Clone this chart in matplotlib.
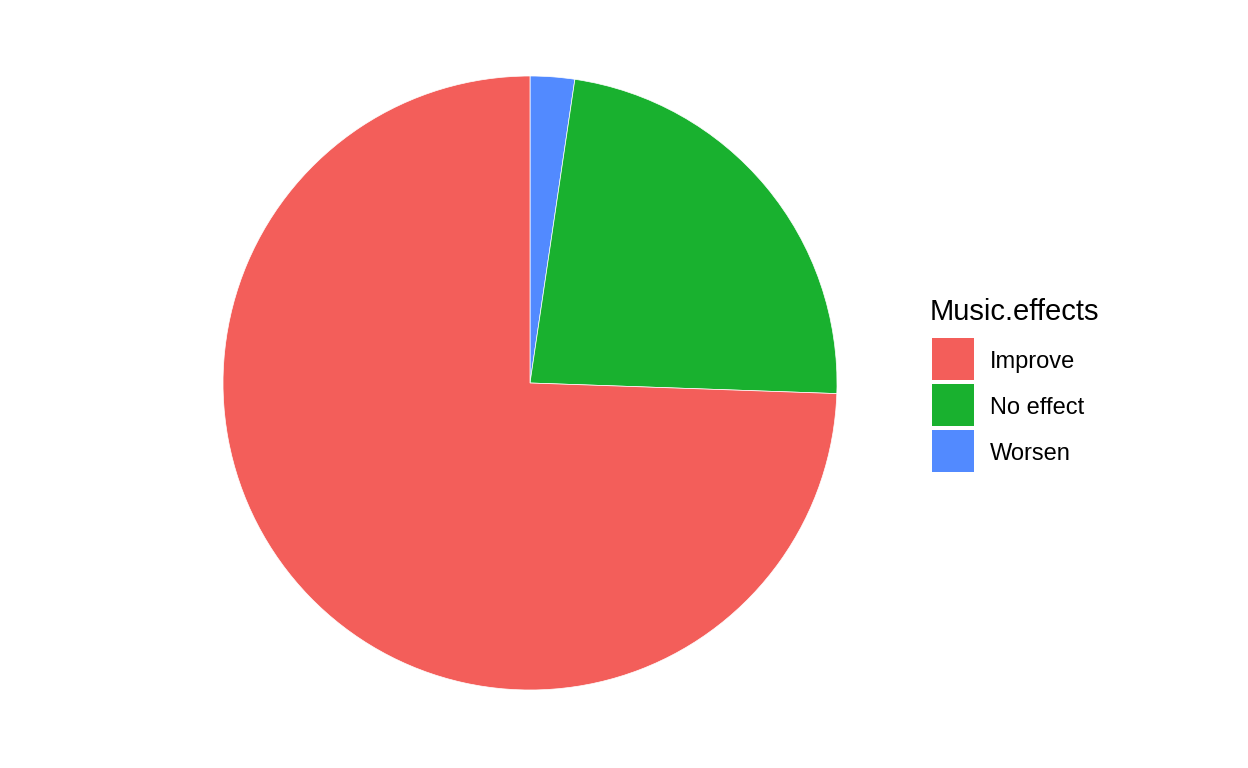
import matplotlib.pyplot as plt
from matplotlib.patches import Rectangle

plt.rcParams['font.family'] = ['Liberation Sans', 'DejaVu Sans']

# Datos
categories = ["Improve", "No effect", "Worsen"]
counts = [542, 169, 17]
colors = ["#F35E5A", "#19B12F", "#528AFF"]
legend_title = "Music.effects"

W, H = 1248, 768
fig = plt.figure(figsize=(W / 100, H / 100), dpi=100)

cx, cy, r = 530, 383, 307
ax = fig.add_axes([(cx - r) / W, (H - cy - r) / H, 2 * r / W, 2 * r / H])

# ggplot coord_polar: Worsen arranca arriba, sentido horario
order = [2, 1, 0]
ax.pie([counts[i] for i in order], colors=[colors[i] for i in order],
       startangle=90, counterclock=False, radius=1,
       wedgeprops=dict(linewidth=0.5, edgecolor="white"))
ax.set_xlim(-1, 1)
ax.set_ylim(-1, 1)
ax.set_aspect("equal")
ax.axis("off")

# Leyenda estilo ggplot (en pixeles)
def px(x, y):
    return x / W, 1 - y / H

fig.text(*px(930, 320), legend_title, fontsize=21, ha="left", va="baseline")
key = 42
for i, (lab, col) in enumerate(zip(categories, colors)):
    top = 338 + i * 46
    x0, y0 = px(932, top + key)
    fig.patches.append(Rectangle((x0, y0), key / W, key / H, facecolor=col,
                                 edgecolor="none", transform=fig.transFigure))
    fig.text(*px(990, top + key / 2), lab, fontsize=17, ha="left",
             va="center_baseline")

fig.savefig("out.png", dpi=100)
